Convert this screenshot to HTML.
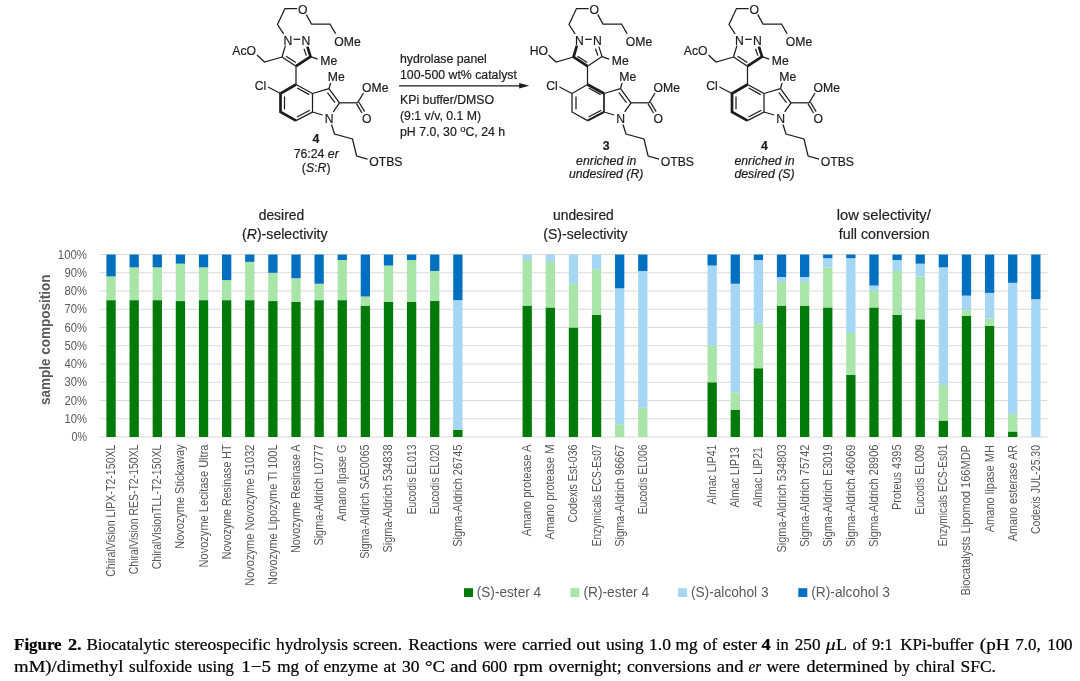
<!DOCTYPE html>
<html><head><meta charset="utf-8"><title>Figure 2</title>
<style>
html,body{margin:0;padding:0;background:#fff;}
body{width:1080px;height:681px;overflow:hidden;font-family:"Liberation Sans",sans-serif;}
svg{display:block;will-change:transform;opacity:0.999;filter:blur(0.4px)}
.mol text{stroke:#1c1c1c;stroke-width:0.2px}
</style></head><body>
<svg width="1080" height="681" viewBox="0 0 1080 681">
<rect width="1080" height="681" fill="#ffffff"/>
<g font-family="Liberation Sans, sans-serif" fill="#1a1a1a" stroke="#1a1a1a" stroke-linecap="butt">
<g id="mol" stroke="#1c1c1c" fill="#1c1c1c" class="mol">
<polyline fill="none" stroke-width="1.25" points="283.6,33.8 277.5,24.5 285,8.6 297.2,8.6"/>
<polyline fill="none" stroke-width="1.25" points="306.3,14.6 311.5,24 330,24 335.6,33.6"/>
<line x1="293.60" y1="39.30" x2="300.20" y2="39.30" stroke-width="1.25"/>
<line x1="285.40" y1="45.60" x2="282.00" y2="57.00" stroke-width="1.25"/>
<line x1="282.00" y1="57.00" x2="296.00" y2="66.20" stroke-width="1.25"/>
<polyline fill="none" stroke-width="2.7" stroke-linejoin="miter" points="296,66.2 310.5,56.6 307.4,46.6"/>
<line x1="286.00" y1="56.20" x2="295.80" y2="62.60" stroke-width="1.25"/>
<line x1="304.00" y1="48.80" x2="306.40" y2="55.60" stroke-width="1.25"/>
<line x1="310.50" y1="56.60" x2="317.60" y2="59.10" stroke-width="1.25"/>
<text x="320.30" y="65.40" font-size="12.2" text-anchor="start" >Me</text>
<text x="232.30" y="55.40" font-size="12.2" text-anchor="start" >AcO</text>
<polyline fill="none" stroke-width="1.25" points="257,55 264.5,62 282,57"/>
<line x1="296.00" y1="66.20" x2="296.00" y2="84.50" stroke-width="1.25"/>
<polyline fill="none" stroke-width="2.7" stroke-linejoin="miter" points="296,84.5 280.5,93.5 280.5,112 296,120.6"/>
<polyline fill="none" stroke-width="1.25" points="296,120.6 312.5,112 312.5,93.5 296,84.5"/>
<line x1="284.50" y1="96.50" x2="284.50" y2="109.30" stroke-width="1.25"/>
<line x1="297.00" y1="117.00" x2="309.80" y2="110.20" stroke-width="1.25"/>
<line x1="297.20" y1="88.00" x2="309.20" y2="94.60" stroke-width="1.25"/>
<text x="254.80" y="90.40" font-size="12.2" text-anchor="start" >Cl</text>
<line x1="268.00" y1="87.00" x2="280.50" y2="93.50" stroke-width="1.25"/>
<line x1="312.50" y1="93.50" x2="329.00" y2="88.60" stroke-width="1.25"/>
<line x1="329.00" y1="88.60" x2="339.50" y2="102.80" stroke-width="1.25"/>
<line x1="327.40" y1="92.60" x2="335.00" y2="102.60" stroke-width="1.25"/>
<line x1="339.50" y1="102.80" x2="333.20" y2="111.80" stroke-width="1.25"/>
<line x1="312.50" y1="112.00" x2="322.60" y2="115.00" stroke-width="1.25"/>
<line x1="329.00" y1="88.60" x2="330.60" y2="83.00" stroke-width="1.25"/>
<text x="327.80" y="80.90" font-size="12.2" text-anchor="start" >Me</text>
<line x1="339.50" y1="102.80" x2="357.50" y2="102.80" stroke-width="1.25"/>
<line x1="357.50" y1="102.80" x2="363.50" y2="93.00" stroke-width="1.25"/>
<text x="362.00" y="91.90" font-size="12.2" text-anchor="start" >OMe</text>
<line x1="356.50" y1="103.60" x2="362.00" y2="113.00" stroke-width="1.25"/>
<line x1="359.00" y1="102.20" x2="364.60" y2="111.60" stroke-width="1.25"/>
<text x="366.80" y="123.20" font-size="12.2" text-anchor="middle" >O</text>
<text x="288.00" y="44.80" font-size="12.2" text-anchor="middle" >N</text>
<text x="306.00" y="44.80" font-size="12.2" text-anchor="middle" >N</text>
<text x="302.80" y="14.00" font-size="12.2" text-anchor="middle" >O</text>
<text x="334.30" y="45.70" font-size="12.2" text-anchor="start" >OMe</text>
<text x="329.20" y="122.70" font-size="12.2" text-anchor="middle" >N</text>
<polyline fill="none" stroke-width="1.25" points="331.5,124.5 334.5,134 352.5,139 356.6,156 367.6,159.2"/>
<text x="369.30" y="165.60" font-size="12.2" text-anchor="start" >OTBS</text>
<polyline fill="none" stroke-width="1.25" points="575.1,33.8 569.0,24.5 576.5,8.6 588.7,8.6"/>
<polyline fill="none" stroke-width="1.25" points="597.8,14.6 603.0,24 621.5,24 627.1,33.6"/>
<line x1="585.10" y1="39.30" x2="591.70" y2="39.30" stroke-width="1.25"/>
<polyline fill="none" stroke-width="2.7" stroke-linejoin="miter" points="576.9,45.6 573.5,57 587.5,66.2"/>
<line x1="587.50" y1="66.20" x2="602.00" y2="56.60" stroke-width="1.25"/>
<line x1="602.00" y1="56.60" x2="598.90" y2="46.60" stroke-width="1.25"/>
<line x1="577.50" y1="56.20" x2="587.30" y2="62.60" stroke-width="1.25"/>
<line x1="595.50" y1="48.80" x2="597.90" y2="55.60" stroke-width="1.25"/>
<line x1="602.00" y1="56.60" x2="609.10" y2="59.10" stroke-width="1.25"/>
<text x="611.80" y="65.40" font-size="12.2" text-anchor="start" >Me</text>
<text x="529.80" y="55.40" font-size="12.2" text-anchor="start" >HO</text>
<polyline fill="none" stroke-width="1.25" points="548.5,55 556.0,62 573.5,57"/>
<line x1="587.50" y1="66.20" x2="587.50" y2="84.50" stroke-width="1.25"/>
<polyline fill="none" stroke-width="1.25" points="587.5,84.5 572.0,93.5 572.0,112 587.5,120.6"/>
<line x1="587.50" y1="84.50" x2="604.00" y2="93.50" stroke-width="2.7"/>
<line x1="604.00" y1="93.50" x2="604.00" y2="112.00" stroke-width="1.7"/>
<line x1="604.00" y1="112.00" x2="587.50" y2="120.60" stroke-width="2.0"/>
<line x1="576.00" y1="96.50" x2="576.00" y2="109.30" stroke-width="1.25"/>
<line x1="588.50" y1="117.00" x2="601.30" y2="110.20" stroke-width="1.25"/>
<line x1="588.70" y1="88.00" x2="600.70" y2="94.60" stroke-width="1.25"/>
<text x="546.30" y="90.40" font-size="12.2" text-anchor="start" >Cl</text>
<line x1="559.50" y1="87.00" x2="572.00" y2="93.50" stroke-width="1.25"/>
<line x1="604.00" y1="93.50" x2="620.50" y2="88.60" stroke-width="1.25"/>
<line x1="620.50" y1="88.60" x2="631.00" y2="102.80" stroke-width="1.25"/>
<line x1="618.90" y1="92.60" x2="626.50" y2="102.60" stroke-width="1.25"/>
<line x1="631.00" y1="102.80" x2="624.70" y2="111.80" stroke-width="1.25"/>
<line x1="604.00" y1="112.00" x2="614.10" y2="115.00" stroke-width="1.25"/>
<line x1="620.50" y1="88.60" x2="622.10" y2="83.00" stroke-width="1.25"/>
<text x="619.30" y="80.90" font-size="12.2" text-anchor="start" >Me</text>
<line x1="631.00" y1="102.80" x2="649.00" y2="102.80" stroke-width="1.25"/>
<line x1="649.00" y1="102.80" x2="655.00" y2="93.00" stroke-width="1.25"/>
<text x="653.50" y="91.90" font-size="12.2" text-anchor="start" >OMe</text>
<line x1="648.00" y1="103.60" x2="653.50" y2="113.00" stroke-width="1.25"/>
<line x1="650.50" y1="102.20" x2="656.10" y2="111.60" stroke-width="1.25"/>
<text x="658.30" y="123.20" font-size="12.2" text-anchor="middle" >O</text>
<text x="579.50" y="44.80" font-size="12.2" text-anchor="middle" >N</text>
<text x="597.50" y="44.80" font-size="12.2" text-anchor="middle" >N</text>
<text x="594.30" y="14.00" font-size="12.2" text-anchor="middle" >O</text>
<text x="625.80" y="45.70" font-size="12.2" text-anchor="start" >OMe</text>
<text x="620.70" y="122.70" font-size="12.2" text-anchor="middle" >N</text>
<polyline fill="none" stroke-width="1.25" points="623.0,124.5 626.0,134 644.0,139 648.1,156 659.1,159.2"/>
<text x="660.80" y="165.60" font-size="12.2" text-anchor="start" >OTBS</text>
<polyline fill="none" stroke-width="1.25" points="735.1,33.8 729.0,24.5 736.5,8.6 748.7,8.6"/>
<polyline fill="none" stroke-width="1.25" points="757.8,14.6 763.0,24 781.5,24 787.1,33.6"/>
<line x1="745.10" y1="39.30" x2="751.70" y2="39.30" stroke-width="1.25"/>
<line x1="736.90" y1="45.60" x2="733.50" y2="57.00" stroke-width="1.25"/>
<line x1="733.50" y1="57.00" x2="747.50" y2="66.20" stroke-width="1.25"/>
<polyline fill="none" stroke-width="2.7" stroke-linejoin="miter" points="747.5,66.2 762.0,56.6 758.9,46.6"/>
<line x1="737.50" y1="56.20" x2="747.30" y2="62.60" stroke-width="1.25"/>
<line x1="755.50" y1="48.80" x2="757.90" y2="55.60" stroke-width="1.25"/>
<line x1="762.00" y1="56.60" x2="769.10" y2="59.10" stroke-width="1.25"/>
<text x="771.80" y="65.40" font-size="12.2" text-anchor="start" >Me</text>
<text x="683.80" y="55.40" font-size="12.2" text-anchor="start" >AcO</text>
<polyline fill="none" stroke-width="1.25" points="708.5,55 716.0,62 733.5,57"/>
<line x1="747.50" y1="66.20" x2="747.50" y2="84.50" stroke-width="1.25"/>
<polyline fill="none" stroke-width="2.7" stroke-linejoin="miter" points="747.5,84.5 732.0,93.5 732.0,112 747.5,120.6"/>
<polyline fill="none" stroke-width="1.25" points="747.5,120.6 764.0,112 764.0,93.5 747.5,84.5"/>
<line x1="736.00" y1="96.50" x2="736.00" y2="109.30" stroke-width="1.25"/>
<line x1="748.50" y1="117.00" x2="761.30" y2="110.20" stroke-width="1.25"/>
<line x1="748.70" y1="88.00" x2="760.70" y2="94.60" stroke-width="1.25"/>
<text x="706.30" y="90.40" font-size="12.2" text-anchor="start" >Cl</text>
<line x1="719.50" y1="87.00" x2="732.00" y2="93.50" stroke-width="1.25"/>
<line x1="764.00" y1="93.50" x2="780.50" y2="88.60" stroke-width="1.25"/>
<line x1="780.50" y1="88.60" x2="791.00" y2="102.80" stroke-width="1.25"/>
<line x1="778.90" y1="92.60" x2="786.50" y2="102.60" stroke-width="1.25"/>
<line x1="791.00" y1="102.80" x2="784.70" y2="111.80" stroke-width="1.25"/>
<line x1="764.00" y1="112.00" x2="774.10" y2="115.00" stroke-width="1.25"/>
<line x1="780.50" y1="88.60" x2="782.10" y2="83.00" stroke-width="1.25"/>
<text x="779.30" y="80.90" font-size="12.2" text-anchor="start" >Me</text>
<line x1="791.00" y1="102.80" x2="809.00" y2="102.80" stroke-width="1.25"/>
<line x1="809.00" y1="102.80" x2="815.00" y2="93.00" stroke-width="1.25"/>
<text x="813.50" y="91.90" font-size="12.2" text-anchor="start" >OMe</text>
<line x1="808.00" y1="103.60" x2="813.50" y2="113.00" stroke-width="1.25"/>
<line x1="810.50" y1="102.20" x2="816.10" y2="111.60" stroke-width="1.25"/>
<text x="818.30" y="123.20" font-size="12.2" text-anchor="middle" >O</text>
<text x="739.50" y="44.80" font-size="12.2" text-anchor="middle" >N</text>
<text x="757.50" y="44.80" font-size="12.2" text-anchor="middle" >N</text>
<text x="754.30" y="14.00" font-size="12.2" text-anchor="middle" >O</text>
<text x="785.80" y="45.70" font-size="12.2" text-anchor="start" >OMe</text>
<text x="780.70" y="122.70" font-size="12.2" text-anchor="middle" >N</text>
<polyline fill="none" stroke-width="1.25" points="783.0,124.5 786.0,134 804.0,139 808.1,156 819.1,159.2"/>
<text x="820.80" y="165.60" font-size="12.2" text-anchor="start" >OTBS</text>
</g>
</g>
<g font-family="Liberation Sans, sans-serif" fill="#1c1c1c" stroke="#1c1c1c" stroke-width="0.2" font-size="12.3">
<text x="316" y="142.9" text-anchor="middle" font-weight="bold">4</text>
<text x="316.2" y="157.6" text-anchor="middle">76:24 <tspan font-style="italic">er</tspan></text>
<text x="316.2" y="171.7" text-anchor="middle">(<tspan font-style="italic">S</tspan>:<tspan font-style="italic">R</tspan>)</text>
<text x="606.2" y="149.9" text-anchor="middle" font-weight="bold">3</text>
<text x="606.2" y="164.8" text-anchor="middle" font-style="italic">enriched in</text>
<text x="606.2" y="178.2" text-anchor="middle" font-style="italic">undesired (R)</text>
<text x="764.5" y="149.9" text-anchor="middle" font-weight="bold">4</text>
<text x="764.5" y="164.8" text-anchor="middle" font-style="italic">enriched in</text>
<text x="764.5" y="178.2" text-anchor="middle" font-style="italic">desired (S)</text>
<text x="400" y="62.5">hydrolase panel</text>
<text x="400" y="79.4">100-500 wt% catalyst</text>
<text x="400" y="104.2">KPi buffer/DMSO</text>
<text x="400" y="120">(9:1 v/v, 0.1 M)</text>
<text x="400" y="135.8">pH 7.0, 30 <tspan font-size="9.5" dy="-4">o</tspan><tspan dy="4">C, 24 h</tspan></text>
</g>
<line x1="399" y1="85.8" x2="521" y2="85.8" stroke="#1c1c1c" stroke-width="1.25"/>
<path d="M529.2 85.8 L519.2 83.0 L519.2 88.6 Z" fill="#1c1c1c"/>
<g stroke="#dadada" stroke-width="1.1">
<line x1="99.5" y1="437.00" x2="1047.4" y2="437.00"/>
<line x1="99.5" y1="418.75" x2="1047.4" y2="418.75"/>
<line x1="99.5" y1="400.51" x2="1047.4" y2="400.51"/>
<line x1="99.5" y1="382.26" x2="1047.4" y2="382.26"/>
<line x1="99.5" y1="364.02" x2="1047.4" y2="364.02"/>
<line x1="99.5" y1="345.77" x2="1047.4" y2="345.77"/>
<line x1="99.5" y1="327.53" x2="1047.4" y2="327.53"/>
<line x1="99.5" y1="309.28" x2="1047.4" y2="309.28"/>
<line x1="99.5" y1="291.04" x2="1047.4" y2="291.04"/>
<line x1="99.5" y1="272.79" x2="1047.4" y2="272.79"/>
<line x1="99.5" y1="254.55" x2="1047.4" y2="254.55"/>
</g>
<rect x="106.41" y="300.16" width="9.3" height="136.84" fill="#007a0a"/>
<rect x="106.41" y="276.44" width="9.3" height="23.72" fill="#a9e4a9"/>
<rect x="106.41" y="254.55" width="9.3" height="21.89" fill="#0070c0"/>
<rect x="129.53" y="300.16" width="9.3" height="136.84" fill="#007a0a"/>
<rect x="129.53" y="267.32" width="9.3" height="32.84" fill="#a9e4a9"/>
<rect x="129.53" y="254.55" width="9.3" height="12.77" fill="#0070c0"/>
<rect x="152.65" y="300.16" width="9.3" height="136.84" fill="#007a0a"/>
<rect x="152.65" y="267.32" width="9.3" height="32.84" fill="#a9e4a9"/>
<rect x="152.65" y="254.55" width="9.3" height="12.77" fill="#0070c0"/>
<rect x="175.77" y="301.07" width="9.3" height="135.93" fill="#007a0a"/>
<rect x="175.77" y="263.67" width="9.3" height="37.40" fill="#a9e4a9"/>
<rect x="175.77" y="254.55" width="9.3" height="9.12" fill="#0070c0"/>
<rect x="198.89" y="300.16" width="9.3" height="136.84" fill="#007a0a"/>
<rect x="198.89" y="267.32" width="9.3" height="32.84" fill="#a9e4a9"/>
<rect x="198.89" y="254.55" width="9.3" height="12.77" fill="#0070c0"/>
<rect x="222.01" y="300.16" width="9.3" height="136.84" fill="#007a0a"/>
<rect x="222.01" y="280.09" width="9.3" height="20.07" fill="#a9e4a9"/>
<rect x="222.01" y="254.55" width="9.3" height="25.54" fill="#0070c0"/>
<rect x="245.13" y="300.16" width="9.3" height="136.84" fill="#007a0a"/>
<rect x="245.13" y="261.85" width="9.3" height="38.31" fill="#a9e4a9"/>
<rect x="245.13" y="254.55" width="9.3" height="7.30" fill="#0070c0"/>
<rect x="268.25" y="301.07" width="9.3" height="135.93" fill="#007a0a"/>
<rect x="268.25" y="272.79" width="9.3" height="28.28" fill="#a9e4a9"/>
<rect x="268.25" y="254.55" width="9.3" height="18.24" fill="#0070c0"/>
<rect x="291.37" y="301.99" width="9.3" height="135.01" fill="#007a0a"/>
<rect x="291.37" y="278.27" width="9.3" height="23.72" fill="#a9e4a9"/>
<rect x="291.37" y="254.55" width="9.3" height="23.72" fill="#0070c0"/>
<rect x="314.49" y="300.16" width="9.3" height="136.84" fill="#007a0a"/>
<rect x="314.49" y="283.74" width="9.3" height="16.42" fill="#a9e4a9"/>
<rect x="314.49" y="254.55" width="9.3" height="29.19" fill="#0070c0"/>
<rect x="337.60" y="300.16" width="9.3" height="136.84" fill="#007a0a"/>
<rect x="337.60" y="260.02" width="9.3" height="40.14" fill="#a9e4a9"/>
<rect x="337.60" y="254.55" width="9.3" height="5.47" fill="#0070c0"/>
<rect x="360.72" y="305.64" width="9.3" height="131.36" fill="#007a0a"/>
<rect x="360.72" y="296.51" width="9.3" height="9.12" fill="#a9e4a9"/>
<rect x="360.72" y="254.55" width="9.3" height="41.96" fill="#0070c0"/>
<rect x="383.84" y="301.99" width="9.3" height="135.01" fill="#007a0a"/>
<rect x="383.84" y="265.50" width="9.3" height="36.49" fill="#a9e4a9"/>
<rect x="383.84" y="254.55" width="9.3" height="10.95" fill="#0070c0"/>
<rect x="406.96" y="301.99" width="9.3" height="135.01" fill="#007a0a"/>
<rect x="406.96" y="260.02" width="9.3" height="41.96" fill="#a9e4a9"/>
<rect x="406.96" y="254.55" width="9.3" height="5.47" fill="#0070c0"/>
<rect x="430.08" y="300.89" width="9.3" height="136.11" fill="#007a0a"/>
<rect x="430.08" y="270.97" width="9.3" height="29.92" fill="#a9e4a9"/>
<rect x="430.08" y="254.55" width="9.3" height="16.42" fill="#0070c0"/>
<rect x="453.20" y="429.70" width="9.3" height="7.30" fill="#007a0a"/>
<rect x="453.20" y="300.16" width="9.3" height="129.54" fill="#a5d7f4"/>
<rect x="453.20" y="254.55" width="9.3" height="45.61" fill="#0070c0"/>
<rect x="522.56" y="305.64" width="9.3" height="131.36" fill="#007a0a"/>
<rect x="522.56" y="260.02" width="9.3" height="45.61" fill="#a9e4a9"/>
<rect x="522.56" y="254.55" width="9.3" height="5.47" fill="#a5d7f4"/>
<rect x="545.68" y="307.46" width="9.3" height="129.54" fill="#007a0a"/>
<rect x="545.68" y="261.85" width="9.3" height="45.61" fill="#a9e4a9"/>
<rect x="545.68" y="254.55" width="9.3" height="7.30" fill="#a5d7f4"/>
<rect x="568.80" y="327.53" width="9.3" height="109.47" fill="#007a0a"/>
<rect x="568.80" y="283.74" width="9.3" height="43.79" fill="#a9e4a9"/>
<rect x="568.80" y="254.55" width="9.3" height="29.19" fill="#a5d7f4"/>
<rect x="591.92" y="314.76" width="9.3" height="122.24" fill="#007a0a"/>
<rect x="591.92" y="269.15" width="9.3" height="45.61" fill="#a9e4a9"/>
<rect x="591.92" y="254.55" width="9.3" height="14.60" fill="#a5d7f4"/>
<rect x="615.04" y="424.23" width="9.3" height="12.77" fill="#a9e4a9"/>
<rect x="615.04" y="288.30" width="9.3" height="135.93" fill="#a5d7f4"/>
<rect x="615.04" y="254.55" width="9.3" height="33.75" fill="#0070c0"/>
<rect x="638.16" y="407.81" width="9.3" height="29.19" fill="#a9e4a9"/>
<rect x="638.16" y="270.97" width="9.3" height="136.84" fill="#a5d7f4"/>
<rect x="638.16" y="254.55" width="9.3" height="16.42" fill="#0070c0"/>
<rect x="707.52" y="382.26" width="9.3" height="54.74" fill="#007a0a"/>
<rect x="707.52" y="345.77" width="9.3" height="36.49" fill="#a9e4a9"/>
<rect x="707.52" y="265.50" width="9.3" height="80.28" fill="#a5d7f4"/>
<rect x="707.52" y="254.55" width="9.3" height="10.95" fill="#0070c0"/>
<rect x="730.64" y="409.63" width="9.3" height="27.37" fill="#007a0a"/>
<rect x="730.64" y="392.30" width="9.3" height="17.33" fill="#a9e4a9"/>
<rect x="730.64" y="283.74" width="9.3" height="108.56" fill="#a5d7f4"/>
<rect x="730.64" y="254.55" width="9.3" height="29.19" fill="#0070c0"/>
<rect x="753.76" y="368.22" width="9.3" height="68.78" fill="#007a0a"/>
<rect x="753.76" y="323.88" width="9.3" height="44.34" fill="#a9e4a9"/>
<rect x="753.76" y="260.02" width="9.3" height="63.86" fill="#a5d7f4"/>
<rect x="753.76" y="254.55" width="9.3" height="5.47" fill="#0070c0"/>
<rect x="776.88" y="305.64" width="9.3" height="131.36" fill="#007a0a"/>
<rect x="776.88" y="281.92" width="9.3" height="23.72" fill="#a9e4a9"/>
<rect x="776.88" y="276.99" width="9.3" height="4.93" fill="#a5d7f4"/>
<rect x="776.88" y="254.55" width="9.3" height="22.44" fill="#0070c0"/>
<rect x="800.00" y="305.64" width="9.3" height="131.36" fill="#007a0a"/>
<rect x="800.00" y="281.92" width="9.3" height="23.72" fill="#a9e4a9"/>
<rect x="800.00" y="276.99" width="9.3" height="4.93" fill="#a5d7f4"/>
<rect x="800.00" y="254.55" width="9.3" height="22.44" fill="#0070c0"/>
<rect x="823.11" y="307.46" width="9.3" height="129.54" fill="#007a0a"/>
<rect x="823.11" y="267.32" width="9.3" height="40.14" fill="#a9e4a9"/>
<rect x="823.11" y="258.20" width="9.3" height="9.12" fill="#a5d7f4"/>
<rect x="823.11" y="254.55" width="9.3" height="3.65" fill="#0070c0"/>
<rect x="846.23" y="374.97" width="9.3" height="62.03" fill="#007a0a"/>
<rect x="846.23" y="333.00" width="9.3" height="41.96" fill="#a9e4a9"/>
<rect x="846.23" y="258.20" width="9.3" height="74.80" fill="#a5d7f4"/>
<rect x="846.23" y="254.55" width="9.3" height="3.65" fill="#0070c0"/>
<rect x="869.35" y="307.46" width="9.3" height="129.54" fill="#007a0a"/>
<rect x="869.35" y="291.04" width="9.3" height="16.42" fill="#a9e4a9"/>
<rect x="869.35" y="285.57" width="9.3" height="5.47" fill="#a5d7f4"/>
<rect x="869.35" y="254.55" width="9.3" height="31.02" fill="#0070c0"/>
<rect x="892.47" y="314.76" width="9.3" height="122.24" fill="#007a0a"/>
<rect x="892.47" y="270.97" width="9.3" height="43.79" fill="#a9e4a9"/>
<rect x="892.47" y="260.02" width="9.3" height="10.95" fill="#a5d7f4"/>
<rect x="892.47" y="254.55" width="9.3" height="5.47" fill="#0070c0"/>
<rect x="915.59" y="319.32" width="9.3" height="117.68" fill="#007a0a"/>
<rect x="915.59" y="276.44" width="9.3" height="42.88" fill="#a9e4a9"/>
<rect x="915.59" y="263.67" width="9.3" height="12.77" fill="#a5d7f4"/>
<rect x="915.59" y="254.55" width="9.3" height="9.12" fill="#0070c0"/>
<rect x="938.71" y="420.58" width="9.3" height="16.42" fill="#007a0a"/>
<rect x="938.71" y="385.00" width="9.3" height="35.58" fill="#a9e4a9"/>
<rect x="938.71" y="267.32" width="9.3" height="117.68" fill="#a5d7f4"/>
<rect x="938.71" y="254.55" width="9.3" height="12.77" fill="#0070c0"/>
<rect x="961.83" y="315.67" width="9.3" height="121.33" fill="#007a0a"/>
<rect x="961.83" y="310.20" width="9.3" height="5.47" fill="#a9e4a9"/>
<rect x="961.83" y="295.60" width="9.3" height="14.60" fill="#a5d7f4"/>
<rect x="961.83" y="254.55" width="9.3" height="41.05" fill="#0070c0"/>
<rect x="984.95" y="325.71" width="9.3" height="111.29" fill="#007a0a"/>
<rect x="984.95" y="318.41" width="9.3" height="7.30" fill="#a9e4a9"/>
<rect x="984.95" y="292.86" width="9.3" height="25.54" fill="#a5d7f4"/>
<rect x="984.95" y="254.55" width="9.3" height="38.31" fill="#0070c0"/>
<rect x="1008.07" y="431.53" width="9.3" height="5.47" fill="#007a0a"/>
<rect x="1008.07" y="414.19" width="9.3" height="17.33" fill="#a9e4a9"/>
<rect x="1008.07" y="282.83" width="9.3" height="131.36" fill="#a5d7f4"/>
<rect x="1008.07" y="254.55" width="9.3" height="28.28" fill="#0070c0"/>
<rect x="1031.19" y="299.25" width="9.3" height="137.75" fill="#a5d7f4"/>
<rect x="1031.19" y="254.55" width="9.3" height="44.70" fill="#0070c0"/>
<g font-family="Liberation Sans, sans-serif" fill="#595959" font-size="12.2">
<text x="71.6" y="441.00" textLength="15.4" lengthAdjust="spacingAndGlyphs">0%</text>
<text x="64.5" y="422.75" textLength="22.5" lengthAdjust="spacingAndGlyphs">10%</text>
<text x="64.5" y="404.51" textLength="22.5" lengthAdjust="spacingAndGlyphs">20%</text>
<text x="64.5" y="386.26" textLength="22.5" lengthAdjust="spacingAndGlyphs">30%</text>
<text x="64.5" y="368.02" textLength="22.5" lengthAdjust="spacingAndGlyphs">40%</text>
<text x="64.5" y="349.77" textLength="22.5" lengthAdjust="spacingAndGlyphs">50%</text>
<text x="64.5" y="331.53" textLength="22.5" lengthAdjust="spacingAndGlyphs">60%</text>
<text x="64.5" y="313.28" textLength="22.5" lengthAdjust="spacingAndGlyphs">70%</text>
<text x="64.5" y="295.04" textLength="22.5" lengthAdjust="spacingAndGlyphs">80%</text>
<text x="64.5" y="276.79" textLength="22.5" lengthAdjust="spacingAndGlyphs">90%</text>
<text x="57.8" y="258.55" textLength="29.2" lengthAdjust="spacingAndGlyphs">100%</text>
</g>
<text transform="translate(50.4,339.7) rotate(-90)" font-family="Liberation Sans, sans-serif" font-size="14" font-weight="bold" fill="#595959" text-anchor="middle" textLength="130.5" lengthAdjust="spacingAndGlyphs">sample composition</text>
<g font-family="Liberation Sans, sans-serif" fill="#595959" font-size="11.9">
<text transform="translate(115.06,576.80) rotate(-90)" textLength="132.3" lengthAdjust="spacingAndGlyphs">ChiralVision LIPX-T2-150XL</text>
<text transform="translate(138.18,574.20) rotate(-90)" textLength="129.7" lengthAdjust="spacingAndGlyphs">ChiralVision RES-T2-150XL</text>
<text transform="translate(161.30,569.30) rotate(-90)" textLength="124.8" lengthAdjust="spacingAndGlyphs">ChiralVisionTLL-T2-150XL</text>
<text transform="translate(184.42,548.80) rotate(-90)" textLength="104.3" lengthAdjust="spacingAndGlyphs">Novozyme Stickaway</text>
<text transform="translate(207.54,567.50) rotate(-90)" textLength="123.0" lengthAdjust="spacingAndGlyphs">Novozyme Lecitase Ultra</text>
<text transform="translate(230.66,559.30) rotate(-90)" textLength="114.8" lengthAdjust="spacingAndGlyphs">Novozyme Resinase HT</text>
<text transform="translate(253.78,585.80) rotate(-90)" textLength="141.3" lengthAdjust="spacingAndGlyphs">Novozyme Novozyme 51032</text>
<text transform="translate(276.90,585.00) rotate(-90)" textLength="140.5" lengthAdjust="spacingAndGlyphs">Novozyme Lipozyme Tl 100L</text>
<text transform="translate(300.02,553.00) rotate(-90)" textLength="108.5" lengthAdjust="spacingAndGlyphs">Novozyme Resinase A</text>
<text transform="translate(323.14,545.60) rotate(-90)" textLength="101.1" lengthAdjust="spacingAndGlyphs">Sigma-Aldrich L0777</text>
<text transform="translate(346.25,521.30) rotate(-90)" textLength="76.8" lengthAdjust="spacingAndGlyphs">Amano lipase G</text>
<text transform="translate(369.37,558.80) rotate(-90)" textLength="114.3" lengthAdjust="spacingAndGlyphs">Sigma-Aldrich SAE0065</text>
<text transform="translate(392.49,552.60) rotate(-90)" textLength="108.1" lengthAdjust="spacingAndGlyphs">Sigma-Aldrich 534838</text>
<text transform="translate(415.61,514.30) rotate(-90)" textLength="69.8" lengthAdjust="spacingAndGlyphs">Eucodis EL013</text>
<text transform="translate(438.73,514.30) rotate(-90)" textLength="69.8" lengthAdjust="spacingAndGlyphs">Eucodis EL020</text>
<text transform="translate(461.85,546.80) rotate(-90)" textLength="102.3" lengthAdjust="spacingAndGlyphs">Sigma-Aldrich 26745</text>
<text transform="translate(531.21,536.30) rotate(-90)" textLength="91.8" lengthAdjust="spacingAndGlyphs">Amano protease A</text>
<text transform="translate(554.33,539.50) rotate(-90)" textLength="95.0" lengthAdjust="spacingAndGlyphs">Amano protease M</text>
<text transform="translate(577.45,522.50) rotate(-90)" textLength="78.0" lengthAdjust="spacingAndGlyphs">Codexis Est-036</text>
<text transform="translate(600.57,546.30) rotate(-90)" textLength="101.8" lengthAdjust="spacingAndGlyphs">Enzymicals ECS-Es07</text>
<text transform="translate(623.69,546.80) rotate(-90)" textLength="102.3" lengthAdjust="spacingAndGlyphs">Sigma-Aldrich 96667</text>
<text transform="translate(646.81,514.30) rotate(-90)" textLength="69.8" lengthAdjust="spacingAndGlyphs">Eucodis EL006</text>
<text transform="translate(716.17,504.50) rotate(-90)" textLength="60.0" lengthAdjust="spacingAndGlyphs">Almac LIP41</text>
<text transform="translate(739.29,507.50) rotate(-90)" textLength="60.5" lengthAdjust="spacingAndGlyphs">Almac LIP13</text>
<text transform="translate(762.41,507.20) rotate(-90)" textLength="60.2" lengthAdjust="spacingAndGlyphs">Almac LIP21</text>
<text transform="translate(785.53,552.50) rotate(-90)" textLength="108.0" lengthAdjust="spacingAndGlyphs">Sigma-Aldrich 534803</text>
<text transform="translate(808.65,547.00) rotate(-90)" textLength="102.5" lengthAdjust="spacingAndGlyphs">Sigma-Aldrich 75742</text>
<text transform="translate(831.76,547.00) rotate(-90)" textLength="102.5" lengthAdjust="spacingAndGlyphs">Sigma-Aldrich E3019</text>
<text transform="translate(854.88,547.00) rotate(-90)" textLength="102.5" lengthAdjust="spacingAndGlyphs">Sigma-Aldrich 46069</text>
<text transform="translate(878.00,547.00) rotate(-90)" textLength="102.5" lengthAdjust="spacingAndGlyphs">Sigma-Aldrich 28906</text>
<text transform="translate(901.12,510.00) rotate(-90)" textLength="65.5" lengthAdjust="spacingAndGlyphs">Proteus 4395</text>
<text transform="translate(924.24,514.50) rotate(-90)" textLength="70.0" lengthAdjust="spacingAndGlyphs">Eucodis EL009</text>
<text transform="translate(947.36,546.30) rotate(-90)" textLength="101.8" lengthAdjust="spacingAndGlyphs">Enzymicals ECS-Es01</text>
<text transform="translate(970.48,595.50) rotate(-90)" textLength="150.5" lengthAdjust="spacingAndGlyphs">Biocatalysts Lipomod 166MDP</text>
<text transform="translate(993.60,532.30) rotate(-90)" textLength="87.3" lengthAdjust="spacingAndGlyphs">Amano lipase MH</text>
<text transform="translate(1016.72,541.30) rotate(-90)" textLength="96.3" lengthAdjust="spacingAndGlyphs">Amano esterase AR</text>
<text transform="translate(1039.84,534.00) rotate(-90)" textLength="89.0" lengthAdjust="spacingAndGlyphs">Codexis JUL-25.30</text>
</g>
<g font-family="Liberation Sans, sans-serif" fill="#1e1e1e" stroke="#1e1e1e" stroke-width="0.2" font-size="13.9">
<text x="258.7" y="220.3" textLength="45.5" lengthAdjust="spacingAndGlyphs">desired</text>
<text x="242" y="239" textLength="85.5" lengthAdjust="spacingAndGlyphs">(<tspan font-style="italic">R</tspan>)-selectivity</text>
<text x="553" y="220.3" textLength="60.8" lengthAdjust="spacingAndGlyphs">undesired</text>
<text x="543.3" y="239" textLength="84.2" lengthAdjust="spacingAndGlyphs">(S)-selectivity</text>
<text x="836.7" y="220.3" textLength="94.1" lengthAdjust="spacingAndGlyphs">low selectivity/</text>
<text x="838.8" y="239" textLength="90.9" lengthAdjust="spacingAndGlyphs">full conversion</text>
</g>
<g font-family="Liberation Sans, sans-serif" fill="#595959" font-size="13.8">
<rect x="464" y="588.2" width="9" height="8.8" fill="#007a0a"/>
<text x="476.7" y="597.2" textLength="64.5" lengthAdjust="spacingAndGlyphs">(S)-ester 4</text>
<rect x="570.4" y="588.2" width="9" height="8.8" fill="#a9e4a9"/>
<text x="583.4" y="597.2" textLength="65.8" lengthAdjust="spacingAndGlyphs">(R)-ester 4</text>
<rect x="678.1" y="588.2" width="9" height="8.8" fill="#a5d7f4"/>
<text x="690.9" y="597.2" textLength="77.7" lengthAdjust="spacingAndGlyphs">(S)-alcohol 3</text>
<rect x="798.3" y="588.2" width="9" height="8.8" fill="#0070c0"/>
<text x="811.2" y="597.2" textLength="78.8" lengthAdjust="spacingAndGlyphs">(R)-alcohol 3</text>
</g>
<g font-family="Liberation Serif, serif" fill="#000" stroke="#000" stroke-width="0.22" font-size="16.6">
<text x="14.1" y="649.8" font-weight="bold" textLength="47.5" lengthAdjust="spacingAndGlyphs">Figure</text>
<text x="67.9" y="649.8" font-weight="bold" textLength="13.7" lengthAdjust="spacingAndGlyphs">2.</text>
<text x="86.4" y="649.8" textLength="83.0" lengthAdjust="spacingAndGlyphs">Biocatalytic</text>
<text x="174.7" y="649.8" textLength="95.8" lengthAdjust="spacingAndGlyphs">stereospecific</text>
<text x="276.0" y="649.8" textLength="71.9" lengthAdjust="spacingAndGlyphs">hydrolysis</text>
<text x="353.0" y="649.8" textLength="49.2" lengthAdjust="spacingAndGlyphs">screen.</text>
<text x="408.2" y="649.8" textLength="69.5" lengthAdjust="spacingAndGlyphs">Reactions</text>
<text x="483.7" y="649.8" textLength="32.4" lengthAdjust="spacingAndGlyphs">were</text>
<text x="521.9" y="649.8" textLength="49.5" lengthAdjust="spacingAndGlyphs">carried</text>
<text x="576.6" y="649.8" textLength="23.7" lengthAdjust="spacingAndGlyphs">out</text>
<text x="605.9" y="649.8" textLength="37.9" lengthAdjust="spacingAndGlyphs">using</text>
<text x="649.1" y="649.8" textLength="21.9" lengthAdjust="spacingAndGlyphs">1.0</text>
<text x="675.5" y="649.8" textLength="22.0" lengthAdjust="spacingAndGlyphs">mg</text>
<text x="703.0" y="649.8" textLength="14.1" lengthAdjust="spacingAndGlyphs">of</text>
<text x="722.5" y="649.8" textLength="34.7" lengthAdjust="spacingAndGlyphs">ester</text>
<text x="761.4" y="649.8" font-weight="bold" textLength="9.1" lengthAdjust="spacingAndGlyphs">4</text>
<text x="776.1" y="649.8" textLength="12.7" lengthAdjust="spacingAndGlyphs">in</text>
<text x="794.7" y="649.8" textLength="25.8" lengthAdjust="spacingAndGlyphs">250</text>
<text x="825.8" y="649.8" font-style="italic" textLength="9.9" lengthAdjust="spacingAndGlyphs">μ</text>
<text x="836.1" y="649.8" textLength="10.9" lengthAdjust="spacingAndGlyphs">L</text>
<text x="852.5" y="649.8" textLength="14.1" lengthAdjust="spacingAndGlyphs">of</text>
<text x="871.9" y="649.8" textLength="20.8" lengthAdjust="spacingAndGlyphs">9:1</text>
<text x="900.3" y="649.8" textLength="73.1" lengthAdjust="spacingAndGlyphs">KPi-buffer</text>
<text x="979.8" y="649.8" textLength="29.7" lengthAdjust="spacingAndGlyphs">(pH</text>
<text x="1015.3" y="649.8" textLength="25.5" lengthAdjust="spacingAndGlyphs">7.0,</text>
<text x="1047.2" y="649.8" textLength="25.4" lengthAdjust="spacingAndGlyphs">100</text>
<text x="14.1" y="672.1" textLength="109.4" lengthAdjust="spacingAndGlyphs">mM)/dimethyl</text>
<text x="129.1" y="672.1" textLength="62.9" lengthAdjust="spacingAndGlyphs">sulfoxide</text>
<text x="197.7" y="672.1" textLength="36.3" lengthAdjust="spacingAndGlyphs">using</text>
<text x="241.3" y="672.1" textLength="29.7" lengthAdjust="spacingAndGlyphs">1−5</text>
<text x="277.2" y="672.1" textLength="21.8" lengthAdjust="spacingAndGlyphs">mg</text>
<text x="304.7" y="672.1" textLength="14.1" lengthAdjust="spacingAndGlyphs">of</text>
<text x="323.6" y="672.1" textLength="54.3" lengthAdjust="spacingAndGlyphs">enzyme</text>
<text x="383.6" y="672.1" textLength="12.5" lengthAdjust="spacingAndGlyphs">at</text>
<text x="401.9" y="672.1" textLength="17.5" lengthAdjust="spacingAndGlyphs">30</text>
<text x="425.0" y="672.1" textLength="20.2" lengthAdjust="spacingAndGlyphs">°C</text>
<text x="450.3" y="672.1" textLength="26.9" lengthAdjust="spacingAndGlyphs">and</text>
<text x="481.9" y="672.1" textLength="25.3" lengthAdjust="spacingAndGlyphs">600</text>
<text x="513.6" y="672.1" textLength="29.1" lengthAdjust="spacingAndGlyphs">rpm</text>
<text x="548.7" y="672.1" textLength="72.9" lengthAdjust="spacingAndGlyphs">overnight;</text>
<text x="627.0" y="672.1" textLength="84.1" lengthAdjust="spacingAndGlyphs">conversions</text>
<text x="716.8" y="672.1" textLength="26.8" lengthAdjust="spacingAndGlyphs">and</text>
<text x="748.6" y="672.1" font-style="italic" textLength="12.5" lengthAdjust="spacingAndGlyphs">er</text>
<text x="766.4" y="672.1" textLength="33.5" lengthAdjust="spacingAndGlyphs">were</text>
<text x="806.4" y="672.1" textLength="81.3" lengthAdjust="spacingAndGlyphs">determined</text>
<text x="894.1" y="672.1" textLength="15.8" lengthAdjust="spacingAndGlyphs">by</text>
<text x="915.8" y="672.1" textLength="39.2" lengthAdjust="spacingAndGlyphs">chiral</text>
<text x="960.5" y="672.1" textLength="35.5" lengthAdjust="spacingAndGlyphs">SFC.</text>
</g>
</svg>
</body></html>
